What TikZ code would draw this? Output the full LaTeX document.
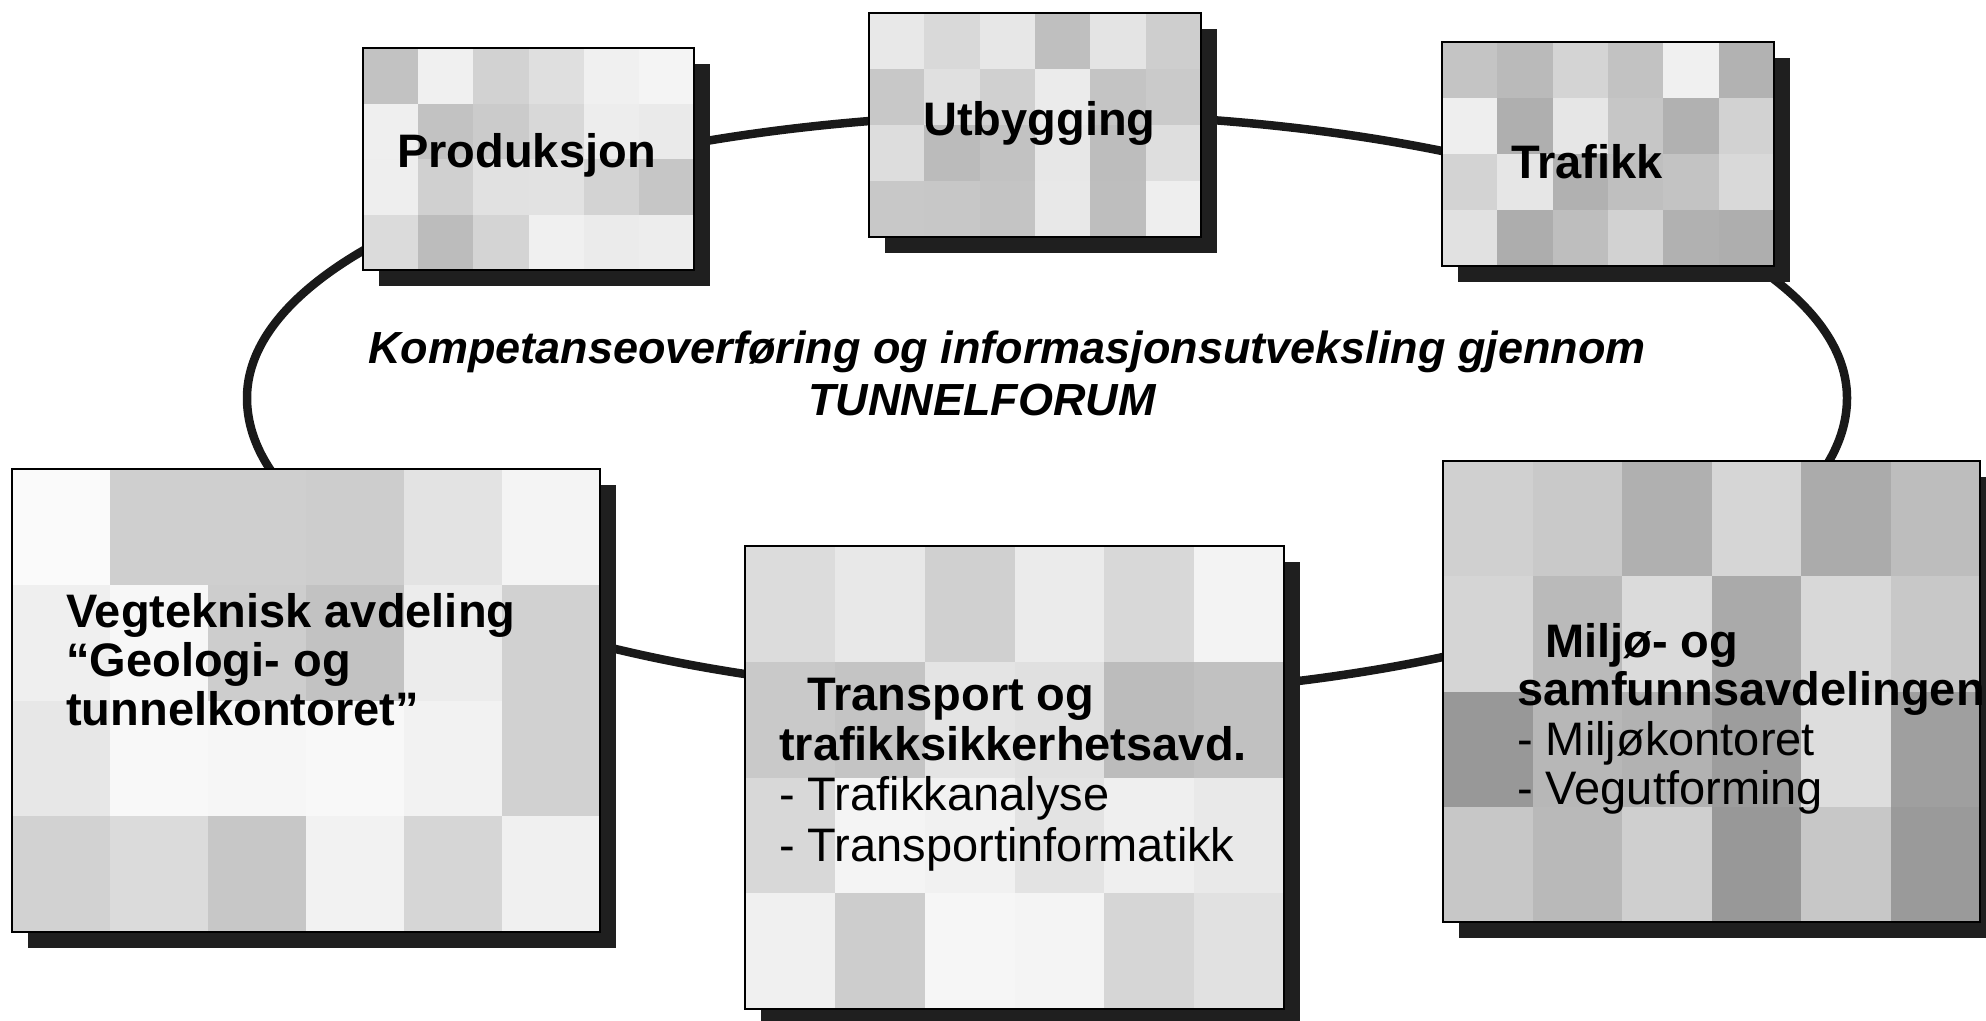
\documentclass[tikz,border=0pt]{standalone}
\usepackage{fontspec}
\setmainfont{Liberation Sans}
\usetikzlibrary{calc}
\pgfmathsetseed{7}
\tikzset{
  box/.style n args={4}{rectangle, draw=black, line width=2.5pt, inner sep=0pt,
    minimum width=#3, minimum height=#4, fill=black!12,
    preaction={fill=black!88, transform canvas={xshift=16pt, yshift=-16pt}},
    path picture={
      \foreach \i in {0,...,5}{
        \foreach \j in {0,...,3}{
          \pgfmathsetmacro\gv{#1+#2*rnd}
          \fill[black!\gv] ($(path picture bounding box.north west)+(\i*#3/6, \j*#4/4)$)
            rectangle ++(#3/6+1, #4/4+1);
        }
      }
    }},
  ring/.style={draw=black!90, line width=8.5pt},
  ttl/.style={anchor=base west, inner sep=0pt, font=\fontsize{47}{50}\selectfont\bfseries},
  itm/.style={anchor=base west, inner sep=0pt, font=\fontsize{47}{50}\selectfont},
  ctr/.style={anchor=base, inner sep=0pt, font=\fontsize{45}{50}\selectfont\bfseries\itshape},
}
\begin{document}
\begin{tikzpicture}[x=1pt, y=-1pt]
\useasboundingbox (0,0) rectangle (1986,1020);
\fill[white] (0,0) rectangle (1986,1020);

% ring behind the boxes
\coordinate (ringc) at (1047,398);
\draw[ring] (ringc) ++(-800,0)
  arc[start angle=180, end angle=360, x radius=800, y radius=284]
  arc[start angle=0, end angle=180, x radius=800, y radius=298];

% centre text
\node[ctr] (forum1) at (1007,363) {Kompetanseoverføring og informasjonsutveksling gjennom};
\node[ctr] (forum2) at (982,415) {TUNNELFORUM};

% boxes
\node[box={3}{24}{331}{222}] (prod) at (528.5,159) {};
\node[box={3}{24}{332}{224}] (utb) at (1035,125) {};
\node[box={5}{28}{332}{224}] (traf) at (1608,154) {};
\node[box={2}{22}{588}{463}] (veg) at (306,700.5) {};
\node[box={3}{24}{539}{463}] (trans) at (1014.5,777.5) {};
\node[box={12}{32}{537}{461}] (milj) at (1711.5,691.5) {};

% box texts
\node[ttl] (tprod) at (397,167) {Produksjon};
\node[ttl] (tutb) at (923,135) {Utbygging};
\node[ttl] (ttraf) at (1511,178) {Trafikk};

\node[ttl] (tveg1) at (66,627) {Vegteknisk avdeling};
\node[ttl] (tveg2) at (66,676) {“Geologi- og};
\node[ttl] (tveg3) at (66,725) {tunnelkontoret”};

\node[ttl] (ttr1) at (807,710) {Transport og};
\node[ttl] (ttr2) at (779,760) {trafikksikkerhetsavd.};
\node[itm] (ttr3) at (779,810) {- Trafikkanalyse};
\node[itm] (ttr4) at (779,861) {- Transportinformatikk};

\node[ttl] (tmi1) at (1545,657) {Miljø- og};
\node[ttl] (tmi2) at (1517,705) {samfunnsavdelingen};
\node[itm] (tmi3) at (1517,755) {- Miljøkontoret};
\node[itm] (tmi4) at (1517,804) {- Vegutforming};
\end{tikzpicture}
\end{document}
